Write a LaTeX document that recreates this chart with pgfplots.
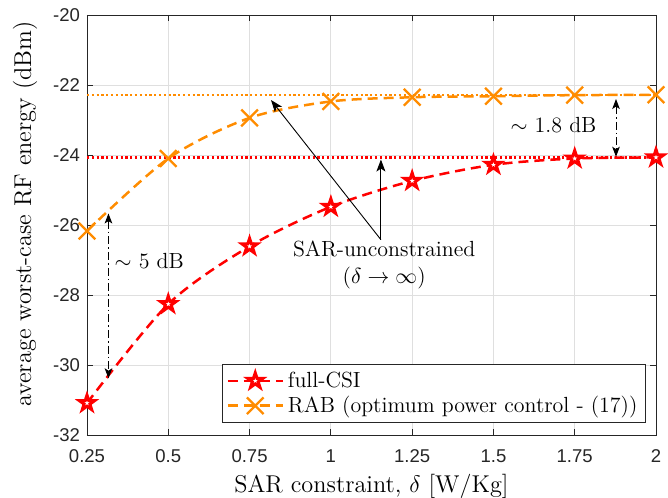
\documentclass[border=0pt]{standalone}
\usepackage{pgfplots}
\pgfplotsset{compat=1.18}
\usepackage{fontspec}
\newfontfamily\ticksf{Liberation Sans}
\usetikzlibrary{arrows.meta}
\definecolor{morange}{RGB}{255,140,0}
\definecolor{axgray}{RGB}{38,38,38}
\definecolor{gridgray}{RGB}{223,223,223}
\pgfdeclareplotmark{pentagram}{%
  \pgfpathmoveto{\pgfpointpolar{90}{\pgfplotmarksize}}%
  \pgfpathlineto{\pgfpointpolar{126}{0.382\pgfplotmarksize}}%
  \pgfpathlineto{\pgfpointpolar{162}{\pgfplotmarksize}}%
  \pgfpathlineto{\pgfpointpolar{198}{0.382\pgfplotmarksize}}%
  \pgfpathlineto{\pgfpointpolar{234}{\pgfplotmarksize}}%
  \pgfpathlineto{\pgfpointpolar{270}{0.382\pgfplotmarksize}}%
  \pgfpathlineto{\pgfpointpolar{306}{\pgfplotmarksize}}%
  \pgfpathlineto{\pgfpointpolar{342}{0.382\pgfplotmarksize}}%
  \pgfpathlineto{\pgfpointpolar{18}{\pgfplotmarksize}}%
  \pgfpathlineto{\pgfpointpolar{54}{0.382\pgfplotmarksize}}%
  \pgfpathclose
  \pgfusepathqfillstroke
}
\begin{document}
\begin{tikzpicture}
\useasboundingbox (-43.5bp,-31.5bp) rectangle (290.5bp,217.5bp);
\begin{axis}[
  at={(0,0)}, anchor=south west,
  scale only axis, width=284.5bp, height=210bp,
  xmin=0.25, xmax=2, ymin=-32, ymax=-20,
  xtick={0.25,0.5,0.75,1,1.25,1.5,1.75,2},
  xticklabels={0.25,0.5,0.75,1,1.25,1.5,1.75,2},
  ytick={-32,-30,-28,-26,-24,-22,-20},
  yticklabels={-32,-30,-28,-26,-24,-22,-20},
  tick label style={font=\ticksf\fontsize{9.3}{11}\selectfont, color=axgray},
  xticklabel style={yshift=-4bp},
  tick align=inside, major tick length=2.8bp,
  tick style={axgray, line width=0.4bp},
  axis line style={axgray, line width=0.4bp},
  grid=major, grid style={gridgray, line width=0.4bp},
  xlabel={SAR constraint, $\delta$ [W/Kg]},
  ylabel={average worst-case RF energy (dBm)},
  label style={font=\fontsize{12.2}{14}\selectfont},
  xlabel style={at={(axis description cs:0.5,0)}, anchor=base, yshift=-28.5bp},
  ylabel style={at={(axis description cs:-0.0984,0.526)}, rotate=0, anchor=base},
  legend style={at={(axis description cs:0.982,0.029)}, anchor=south east,
    font=\fontsize{11}{13}\selectfont, draw=axgray, line width=0.4bp,
    inner xsep=2bp, inner ysep=1.5bp, row sep=-1bp},
  legend cell align=left,
  legend image code/.code={%
    \draw[mark repeat=2,mark phase=2,#1] plot coordinates {(0bp,0bp) (13.75bp,0bp) (27.5bp,0bp)};},
  clip=false,
]
% dotted SAR-unconstrained levels
\addplot[forget plot, color=morange, line width=1.1bp, dash pattern=on 1.1bp off 1.3bp] coordinates {(0.25,-22.29) (2,-22.29)};
\addplot[forget plot, color=red, line width=1.1bp, dash pattern=on 1.1bp off 1.3bp] coordinates {(0.25,-24.07) (2,-24.07)};
% full-CSI
\addplot[color=red, line width=1.25bp, dash pattern=on 5bp off 3bp, smooth, tension=0.5,
  mark=pentagram, mark size=4bp, mark options={solid, fill=white, draw=red, line width=1.5bp}]
  coordinates {(0.25,-31.09) (0.5,-28.26) (0.75,-26.61) (1,-25.48) (1.25,-24.74) (1.5,-24.28) (1.75,-24.10) (2,-24.07)};
\addlegendentry{full-CSI}
% RAB
\addplot[color=morange, line width=1.25bp, dash pattern=on 5bp off 3bp, smooth, tension=0.5,
  mark=x, mark size=5.9bp, mark options={solid, line width=1.15bp}]
  coordinates {(0.25,-26.17) (0.5,-24.10) (0.75,-22.94) (1,-22.47) (1.25,-22.35) (1.5,-22.32) (1.75,-22.29) (2,-22.28)};
\addlegendentry{RAB (optimum power control - (17))}
% annotations
\draw[black, line width=0.45bp, -{Stealth[length=6bp,width=4.5bp,inset=1.5bp]}] (axis cs:1.154,-26.42) -- (axis cs:0.816,-22.43);
\draw[black, line width=0.45bp, -{Stealth[length=6bp,width=4.5bp,inset=1.5bp]}] (axis cs:1.154,-26.42) -- (axis cs:1.154,-24.13);
\node[align=center, font=\fontsize{11}{13.5}\selectfont, inner sep=0pt] at (axis cs:1.164,-27.15) {SAR-unconstrained\\($\delta\rightarrow\infty$)};
\draw[black, line width=0.45bp, dash pattern=on 4bp off 1.5bp on 0.8bp off 1.5bp, {Stealth[length=5bp,width=3.8bp,inset=1.2bp]}-{Stealth[length=5bp,width=3.8bp,inset=1.2bp]}] (axis cs:0.316,-25.67) -- (axis cs:0.316,-30.38);
\node[anchor=west, font=\fontsize{11}{13}\selectfont, inner sep=0pt] at (axis cs:0.334,-27.02) {$\sim$ 5 dB};
\draw[black, line width=0.45bp, dash pattern=on 4bp off 1.5bp on 0.8bp off 1.5bp, {Stealth[length=5bp,width=3.8bp,inset=1.2bp]}-{Stealth[length=5bp,width=3.8bp,inset=1.2bp]}] (axis cs:1.877,-22.40) -- (axis cs:1.877,-24.05);
\node[anchor=east, font=\fontsize{11}{13}\selectfont, inner sep=0pt] at (axis cs:1.818,-23.14) {$\sim$ 1.8 dB};
\end{axis}
\end{tikzpicture}
\end{document}
